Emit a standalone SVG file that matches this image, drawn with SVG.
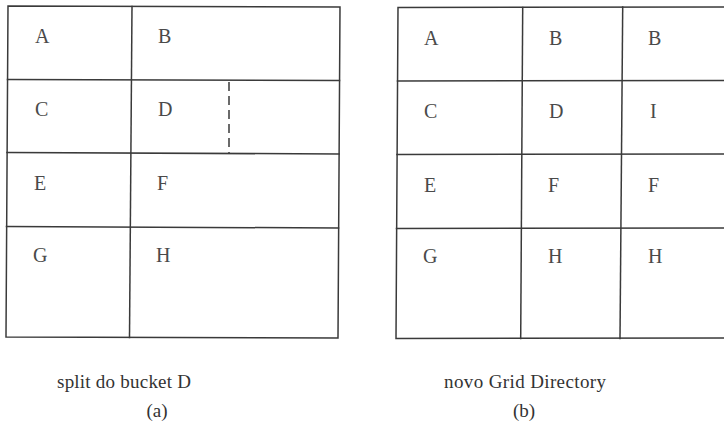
<svg xmlns="http://www.w3.org/2000/svg" width="724" height="434" viewBox="0 0 724 434">
  <style>
    .grid { fill: none; stroke: #3a3a3a; stroke-width: 1.5; stroke-linecap: square; }
    .dash { fill: none; stroke: #3a3a3a; stroke-width: 1.5; stroke-dasharray: 9 5; }
    .cell { font-family: "Liberation Serif", "DejaVu Serif", serif; font-size: 20px; fill: #4a4a4a; }
    .cap { font-family: "Liberation Serif", "DejaVu Serif", serif; font-size: 19px; fill: #333; text-anchor: middle; }
  </style>
  <rect width="724" height="434" fill="#ffffff"/>

  <!-- (a) grid with bucket D being split -->
  <g id="grid-a">
    <polygon class="grid" points="8,6 340,7 338,338 6,337"/>
    <line class="grid" x1="7.5" y1="79.5" x2="339.5" y2="80.5"/>
    <line class="grid" x1="7" y1="152.5" x2="339" y2="154"/>
    <line class="grid" x1="6.5" y1="226.5" x2="338.5" y2="228"/>
    <line class="grid" x1="132" y1="6.5" x2="129.5" y2="337.5"/>
    <line class="dash" x1="229" y1="82" x2="229" y2="153"/>
  </g>
  <g id="cells-a">
    <g id="a-A"><text class="cell" x="35" y="43">A</text></g>
    <g id="a-B"><text class="cell" x="158" y="43">B</text></g>
    <g id="a-C"><text class="cell" x="35" y="116">C</text></g>
    <g id="a-D"><text class="cell" x="158" y="116">D</text></g>
    <g id="a-E"><text class="cell" x="34" y="190">E</text></g>
    <g id="a-F"><text class="cell" x="157" y="190">F</text></g>
    <g id="a-G"><text class="cell" x="33" y="262">G</text></g>
    <g id="a-H"><text class="cell" x="156" y="262">H</text></g>
  </g>

  <!-- (b) new grid directory -->
  <g id="grid-b">
    <polyline class="grid" points="730,7 398,7.5 396,338.5 730,338"/>
    <line class="grid" x1="397.5" y1="81" x2="730" y2="80.5"/>
    <line class="grid" x1="397" y1="154.5" x2="730" y2="154"/>
    <line class="grid" x1="396.5" y1="228.5" x2="730" y2="228"/>
    <line class="grid" x1="522.7" y1="7.5" x2="520.7" y2="338.5"/>
    <line class="grid" x1="622.7" y1="7" x2="620" y2="338.5"/>
  </g>
  <g id="cells-b">
    <g id="b-A"><text class="cell" x="424" y="45">A</text></g>
    <g id="b-B1"><text class="cell" x="549" y="45">B</text></g>
    <g id="b-B2"><text class="cell" x="648" y="45">B</text></g>
    <g id="b-C"><text class="cell" x="424" y="118">C</text></g>
    <g id="b-D"><text class="cell" x="549" y="118">D</text></g>
    <g id="b-I"><text class="cell" x="650" y="118">I</text></g>
    <g id="b-E"><text class="cell" x="424" y="192">E</text></g>
    <g id="b-F1"><text class="cell" x="548" y="192">F</text></g>
    <g id="b-F2"><text class="cell" x="648" y="192">F</text></g>
    <g id="b-G"><text class="cell" x="423" y="263">G</text></g>
    <g id="b-H1"><text class="cell" x="548" y="263">H</text></g>
    <g id="b-H2"><text class="cell" x="648" y="263">H</text></g>
  </g>

  <!-- captions -->
  <g id="captions">
    <text class="cap" x="124" y="388" textLength="134" lengthAdjust="spacing">split do bucket D</text>
    <text class="cap" x="157" y="417">(a)</text>
    <text class="cap" x="525" y="388" textLength="162" lengthAdjust="spacing">novo Grid Directory</text>
    <text class="cap" x="524" y="417">(b)</text>
  </g>
</svg>
